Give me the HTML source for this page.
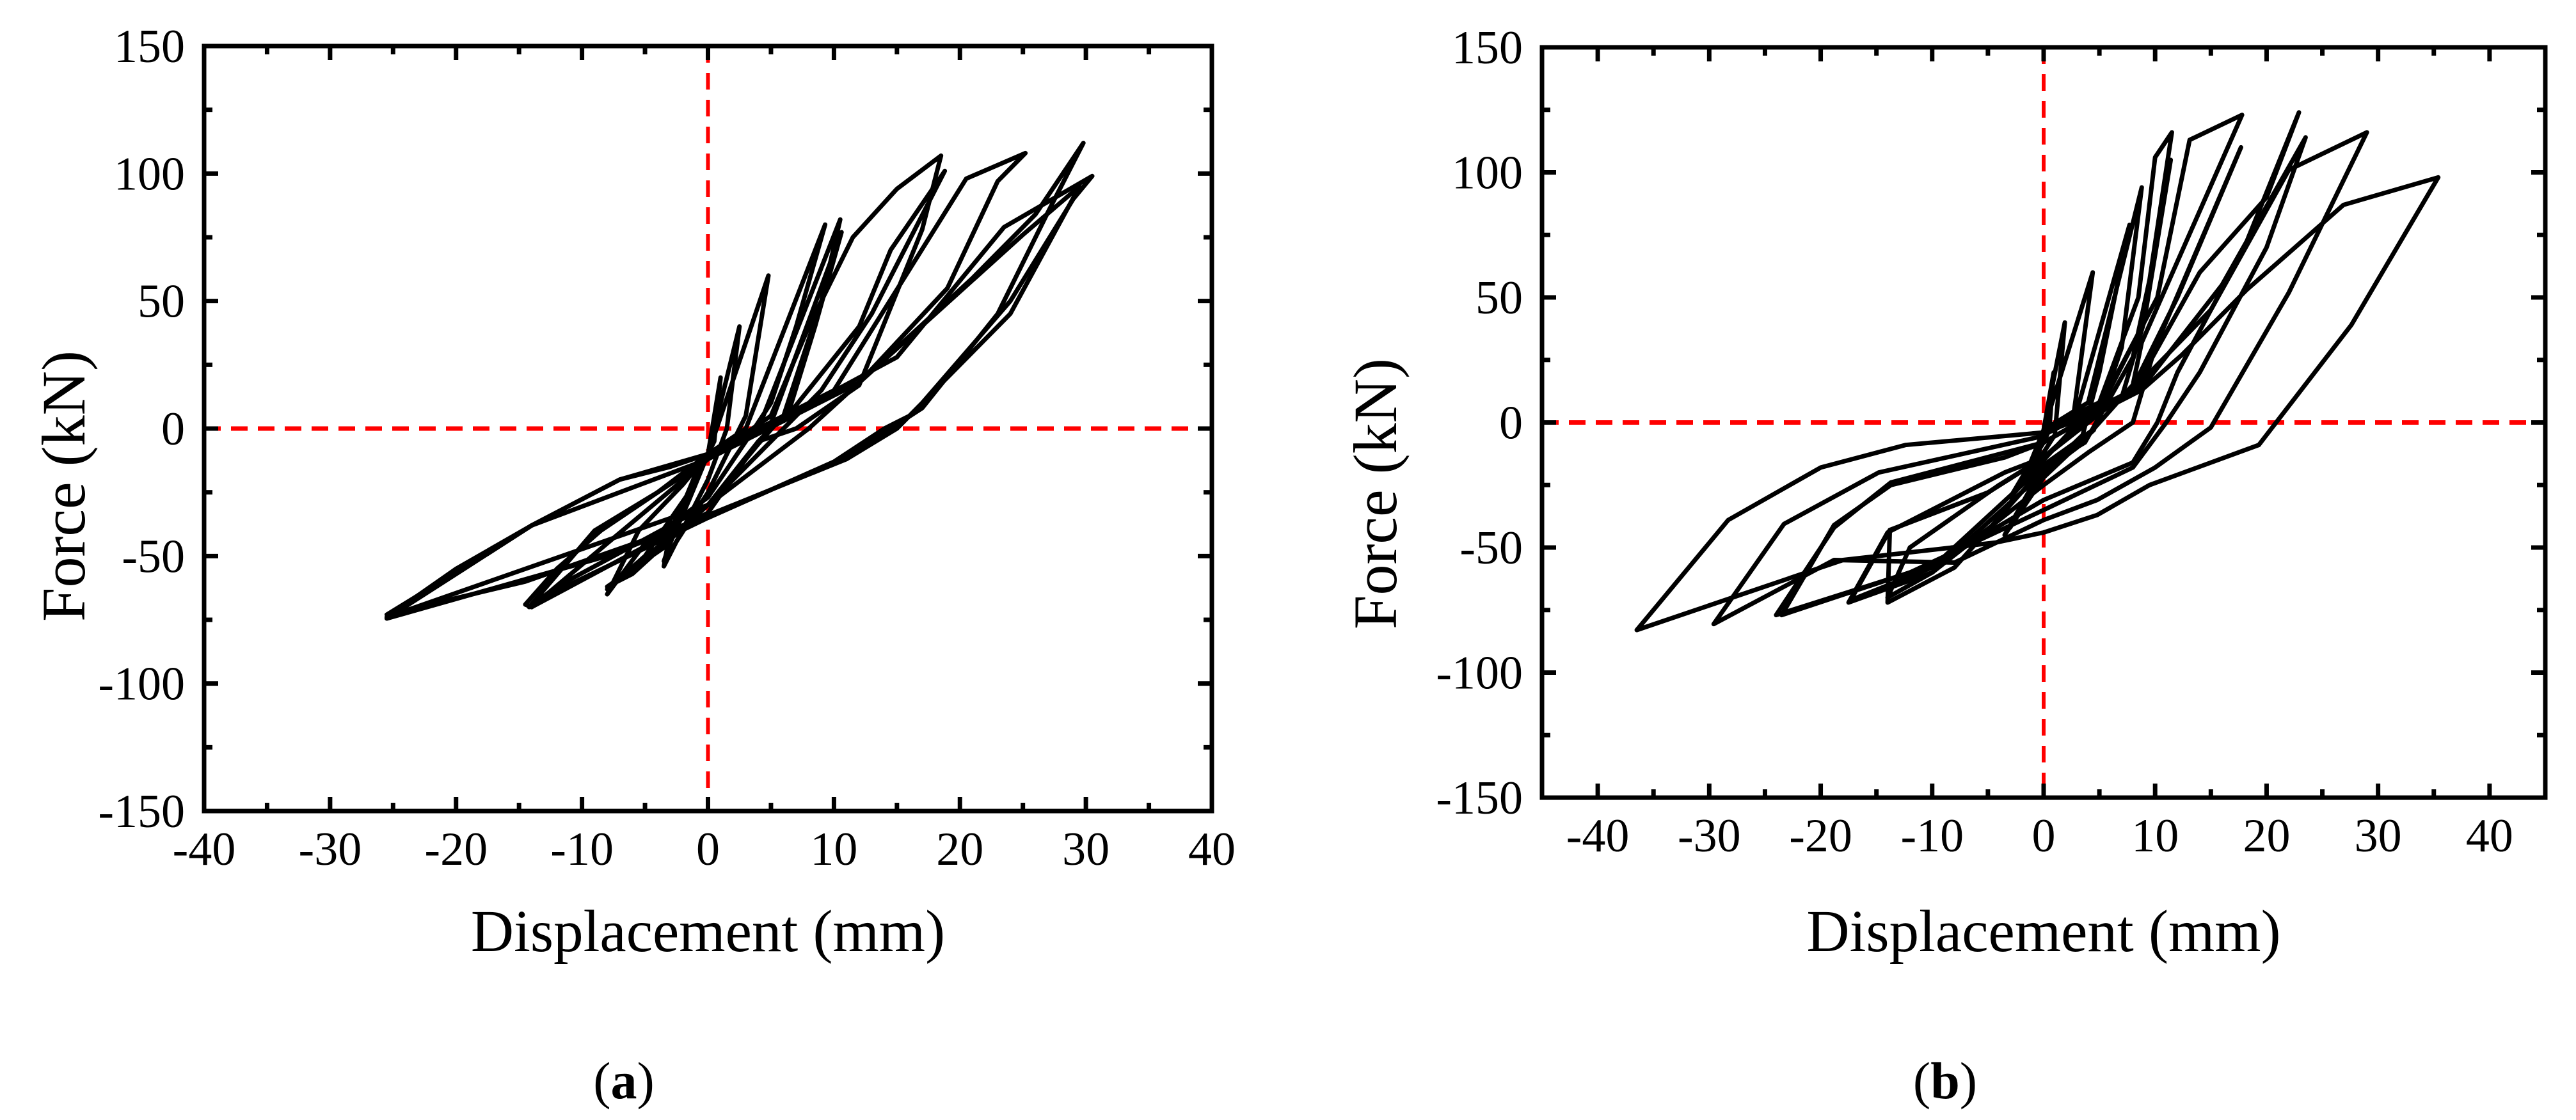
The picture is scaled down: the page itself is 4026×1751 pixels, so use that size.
<!DOCTYPE html>
<html><head><meta charset="utf-8"><style>
html,body{margin:0;padding:0;background:#fff;}
svg{display:block;}
text{font-family:"Liberation Serif","Times New Roman",serif;fill:#000;}
</style></head><body>
<svg id="fig" width="4026" height="1751" viewBox="0 0 4026 1751" xmlns="http://www.w3.org/2000/svg">
<rect width="4026" height="1751" fill="#fff"/>
<g id="pa"></g>
<g id="pb"></g>
</svg>
<script>
// ---- Panel (a) data: hysteresis cycles, [displacement mm, force kN]
const cyclesA = [
 [[0,-10],[1,20],[0.5,-5],[-1,-20],[-2,-30],[-1,-18],[0,-10]],
 [[0,-10],[2.5,40],[1.5,0],[0,-20],[-3.5,-54],[-3,-40],[-1,-20],[0,-10]],
 [[0,-10],[4.8,60],[3,5],[0,-25],[-3.5,-52],[-2,-30],[0,-10]],
 [[0,-10],[3,0],[9.3,80],[7,40],[5,10],[3,-5],[0,-27],[-5,-45],[-8,-65],[-5.5,-40],[-2,-22],[0,-10]],
 [[0,-10],[4,0],[10.5,82],[9,50],[6,5],[4,-5],[0,-30],[-6,-57],[-8,-62],[-3,-45],[-1.5,-28],[0,-10]],
 [[0,-10],[5,2],[10.6,77],[8.5,40],[6.5,8],[4,-6],[0,-30],[-8,-63],[-5,-50],[-1.5,-25],[0,-10]],
 [[0,-10],[6,3],[12,40],[14.5,70],[18.8,101],[13,45],[9,15],[6,0],[0,-30],[-12,-62],[-14.2,-70],[-9,-40],[-4,-25],[0,-10]],
 [[0,-12],[5,5],[8,40],[11.5,75],[15,94],[18.5,107],[17,78],[12,17],[7,0],[4,-5],[0,-33],[-14,-70],[-14.5,-69],[-12,-55],[-8.5,-40],[-4,-25],[0,-12]],
 [[0,-10],[10,15],[20.5,98],[25.2,108],[23,97],[19,55],[12,18],[8,0],[0,-30],[-25.5,-74],[-20,-55],[-14,-38],[-7,-20],[-3,-15],[0,-10]],
 [[0,-10],[12,18],[21,59],[26,84],[29.8,112],[27,85],[23,45],[17,8],[14.5,0],[10.5,-12],[0,-35],[-14.5,-60],[-25.5,-73],[-14,-38],[-7,-20],[0,-10]],
 [[0,-12],[15,28],[23.5,79],[30.5,99],[29,90],[24,50],[17,10],[15,0],[11,-12],[0,-34],[-8,-50],[-25.5,-74.5],[-14,-38],[0,-12]],
 [[0,-12],[12,18],[25,76],[29.5,95],[24,45],[16,5],[14,0],[10,-13],[0,-35],[-13,-66],[-14,-70],[-8,-45],[0,-12]]
];
// ---- Panel (b) data
const cyclesB = [
 [[0,-3],[0.9,20],[0.5,-3],[0,-8],[-1,-15],[0,-3]],
 [[0,-3],[1.9,40],[1,-5],[0,-12],[-2,-25],[0,-3]],
 [[0,-3],[4.4,60],[2.5,-3],[0,-15],[-3,-30],[-1,-15],[0,-3]],
 [[0,-3],[3,5],[7.7,79],[5,20],[3.5,-5],[0,-20],[-3,-42],[-1,-25],[0,-3]],
 [[0,-3],[4,8],[8.8,94],[7,30],[4.5,-3],[0,-22],[-3.5,-45],[-1,-25],[0,-3]],
 [[0,-3],[5,8],[8.5,50],[10,106],[11.5,116],[9.5,57],[8,26],[3.7,-8],[0,-18],[-8,-58],[-14,-72],[-13.8,-43],[-5,-28],[0,-14]],
 [[0,-14],[5,5],[9,40],[11.4,105],[9,40],[7,10],[3,-10],[0,-20],[-10,-60],[-14,-70],[-12,-50],[-4,-25],[0,-14]],
 [[0,-14],[5,6],[10.2,50],[13.1,113],[17.8,123],[8.8,32],[8,15],[4.4,-3],[0,-17],[-10,-58],[-17.3,-71],[-13.8,-43],[-5,-28],[0,-14]],
 [[0,-14],[8,14],[12,50],[17.7,110],[10,30],[8,0],[4,-12],[0,-25],[-10,-60],[-17.5,-72],[-14,-44],[-3.5,-20],[0,-14]],
 [[0,-8],[8,12],[14,60],[20,90],[22.9,124],[18,70],[12,20],[10.2,0],[8,-16],[0,-31],[-10,-57],[-23.5,-77],[-18.8,-41],[-13.7,-25],[-3.5,-14],[0,-8]],
 [[0,-8],[9,15],[16,55],[23.5,114],[20,70],[14,20],[11,0],[8,-18],[0,-35],[-12,-60],[-24,-77],[-18.8,-42],[-13.7,-24],[0,-8]],
 [[0,-5],[8,13],[15,45],[22,101],[29,116],[22,52],[15,-2],[10,-18],[4.8,-31],[0,-39],[-8,-56],[-18.8,-55],[-29.6,-80.6],[-23.3,-40.6],[-14.8,-20],[0,-5.4]],
 [[0,-4],[4.4,3],[8.8,13],[12.4,27],[18.2,53],[26.9,87],[35.4,98],[27.6,39],[19.3,-9],[9.5,-25],[4.8,-37],[0,-44],[-4.3,-48],[-18,-55],[-36.5,-83],[-28.3,-39],[-20,-18],[-12.4,-9],[0,-4]]
];
const xTicksA = [-40,-30,-20,-10,0,10,20,30,40];
const xTicksB = [-40,-30,-20,-10,0,10,20,30,40];
const yTicks = [-150,-100,-50,0,50,100,150];

const NS = "http://www.w3.org/2000/svg";
function mk(parent, tag, attrs){ const e=document.createElementNS(NS,tag); for(const k in attrs) e.setAttribute(k,attrs[k]); parent.appendChild(e); return e; }

function panel(g, cfg, cycles, xTicks, letter){
  const X = v => cfg.L + (v - cfg.xmin)/(cfg.xmax-cfg.xmin)*(cfg.R-cfg.L);
  const Y = v => cfg.B - (v - (-150))/300*(cfg.B-cfg.T);
  const zx = mk(g,'line',{x1:X(0),x2:X(0),y1:cfg.T,y2:cfg.B,stroke:'#ff0000','stroke-width':6,'stroke-dasharray':'26,16'});
  
  
  const zy = mk(g,'line',{x1:cfg.L,x2:cfg.R,y1:Y(0),y2:Y(0),stroke:'#ff0000','stroke-width':7,'stroke-dasharray':'26,16'});
  
  
  cycles.forEach((c,i)=>{
    const d = c.map((p,j)=>(j?'L':'M')+X(p[0]).toFixed(1)+','+Y(p[1]).toFixed(1)).join('');
    const p = mk(g,'path',{d:d,fill:'none',stroke:'#000','stroke-width':7,'stroke-linejoin':'round'});
    
    
  });
  const fr = mk(g,'rect',{x:cfg.L,y:cfg.T,width:cfg.R-cfg.L,height:cfg.B-cfg.T,fill:'none',stroke:'#000','stroke-width':7});
  
  
  for(let v=Math.ceil(cfg.xmin/5)*5; v<=cfg.xmax; v+=5){
    const major = v%10===0; const len = major?22:13; const x=X(v);
    mk(g,'line',{x1:x,x2:x,y1:cfg.B,y2:cfg.B-len,stroke:'#000','stroke-width':7});
    mk(g,'line',{x1:x,x2:x,y1:cfg.T,y2:cfg.T+len,stroke:'#000','stroke-width':7});
  }
  for(let v=-150; v<=150; v+=25){
    const major = v%50===0; const len = major?22:13; const y=Y(v);
    mk(g,'line',{x1:cfg.L,x2:cfg.L+len,y1:y,y2:y,stroke:'#000','stroke-width':7});
    mk(g,'line',{x1:cfg.R,x2:cfg.R-len,y1:y,y2:y,stroke:'#000','stroke-width':7});
  }
  xTicks.forEach(v=>{
    const t = mk(g,'text',{x:X(v),y:cfg.B+84,'font-size':74,'text-anchor':'middle'});
    t.textContent = String(v);
    
    
  });
  yTicks.forEach(v=>{
    const t = mk(g,'text',{x:cfg.L-30,y:Y(v)+25,'font-size':74,'text-anchor':'end'});
    t.textContent = String(v);
    
    
  });
  const xt = mk(g,'text',{x:(cfg.L+cfg.R)/2,y:1487,'font-size':93,'text-anchor':'middle'});
  xt.textContent='Displacement (mm)';
  
  
  const yt = mk(g,'text',{x:0,y:0,'font-size':96,'text-anchor':'middle',transform:'translate('+cfg.ytx+','+cfg.yty+') rotate(-90)'});
  yt.textContent='Force (kN)';
  
  
  const cap = mk(g,'text',{x:cfg.capx,y:1717,'font-size':82,'text-anchor':'middle'});
  cap.innerHTML = '(<tspan font-weight="bold">'+letter+'</tspan>)';
  
  
}
panel(document.getElementById('pa'),{L:319,R:1894,T:72,B:1268,xmin:-40,xmax:40,ytx:132,yty:760,capx:975},cyclesA,xTicksA,'a');
panel(document.getElementById('pb'),{L:2410,R:3978,T:74,B:1247,xmin:-45,xmax:45,ytx:2182,yty:772,capx:3040},cyclesB,xTicksB,'b');
</script>
</body></html>
